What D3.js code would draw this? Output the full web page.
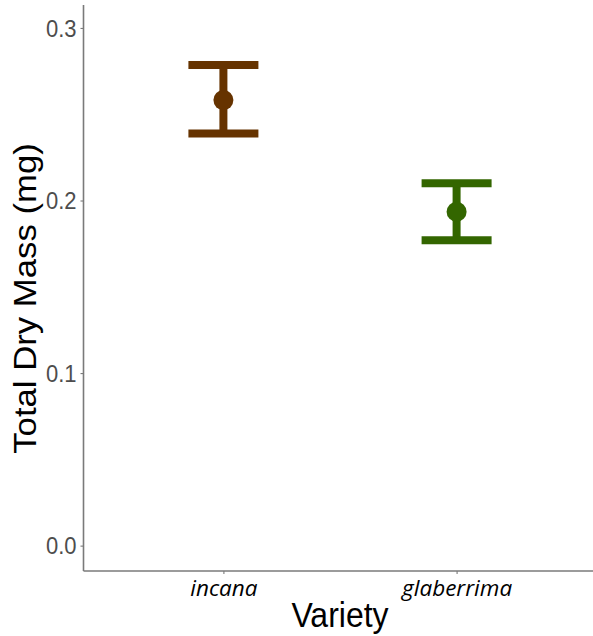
<!DOCTYPE html>
<html>
<head>
<meta charset="utf-8">
<script src="https://cdn.jsdelivr.net/npm/d3@7"></script>
<style>
  html, body { margin: 0; padding: 0; background: #fff; }
  svg { display: block; }
</style>
</head>
<body>
<svg id="chart" width="593" height="636"></svg>
<script>
// Mean total dry mass per variety with error bar limits
const varieties = ["incana", "glaberrima"];
const means = [0.2582, 0.1935];
const lower = [0.2389, 0.1769];
const upper = [0.2785, 0.2100];
const colors = ["#663300", "#336600"];
const yTicks = [0.0, 0.1, 0.2, 0.3];

const svg = d3.select("#chart");
const panel = { left: 83.5, right: 596.5, top: 5, bottom: 571 };
const textStretch = 1.1; // glyphs are drawn slightly taller than wide

const x = d3.scalePoint()
  .domain(varieties)
  .range([panel.left, panel.right])
  .padding(0.6);

const y = d3.scaleLinear()
  .domain([-0.0147, 0.3133])
  .range([panel.bottom, panel.top]);

// Axes
const yAxis = svg.append("g")
  .attr("transform", `translate(${panel.left},0)`)
  .call(d3.axisLeft(y).tickValues(yTicks).tickFormat(d3.format(".1f")).tickSize(3).tickSizeOuter(0).tickPadding(4));
const xAxis = svg.append("g")
  .attr("transform", `translate(0,${panel.bottom})`)
  .call(d3.axisBottom(x).tickSize(3).tickSizeOuter(0).tickPadding(4));

[yAxis, xAxis].forEach(g => {
  g.select(".domain").attr("stroke", "#7a7a7a").attr("stroke-width", 1.6);
  g.selectAll(".tick line").attr("stroke", "#7a7a7a").attr("stroke-width", 1.1);
});
yAxis.selectAll(".domain").attr("d", `M0,${panel.bottom}V${panel.top}`);
xAxis.selectAll(".domain").attr("d", `M${panel.left},0H${panel.right}`);

yAxis.selectAll(".tick text")
  .attr("fill", "#4d4d4d")
  .attr("x", -7)
  .attr("dy", "0.34em")
  .attr("transform", `scale(1,${textStretch})`)
  .style("font-family", "'Liberation Sans', Arial, sans-serif")
  .style("font-size", "22px");

xAxis.selectAll(".tick text")
  .attr("fill", "#000")
  .attr("y", 25)
  .attr("dy", 0)
  .style("font-family", "'Open Sans', sans-serif")
  .style("font-style", "italic")
  .style("font-size", "22.5px");

// Error bars and points
const data = varieties.map((v, i) => ({ v, m: means[i], lo: lower[i], hi: upper[i], c: colors[i] }));
const capHalf = 35;
const g = svg.append("g");

g.selectAll(".stem").data(data).join("line")
  .attr("x1", d => x(d.v)).attr("x2", d => x(d.v))
  .attr("y1", d => y(d.hi)).attr("y2", d => y(d.lo))
  .attr("stroke", d => d.c).attr("stroke-width", 8);

g.selectAll(".capTop").data(data).join("line")
  .attr("x1", d => x(d.v) - capHalf).attr("x2", d => x(d.v) + capHalf)
  .attr("y1", d => y(d.hi)).attr("y2", d => y(d.hi))
  .attr("stroke", d => d.c).attr("stroke-width", 8);

g.selectAll(".capBottom").data(data).join("line")
  .attr("x1", d => x(d.v) - capHalf).attr("x2", d => x(d.v) + capHalf)
  .attr("y1", d => y(d.lo)).attr("y2", d => y(d.lo))
  .attr("stroke", d => d.c).attr("stroke-width", 8);

g.selectAll("circle").data(data).join("circle")
  .attr("cx", d => x(d.v)).attr("cy", d => y(d.m))
  .attr("r", 10).attr("fill", d => d.c);

// Axis titles
svg.append("text")
  .attr("transform", `translate(${(panel.left + panel.right) / 2},627) scale(1,${textStretch + 0.02})`)
  .attr("text-anchor", "middle")
  .style("font-family", "'Liberation Sans', Arial, sans-serif")
  .style("font-size", "32px")
  .attr("fill", "#000")
  .text("Variety");

svg.append("text")
  .attr("transform", `translate(36,298.5) scale(1,${textStretch + 0.02}) rotate(-90)`)
  .attr("text-anchor", "middle")
  .style("font-family", "'Liberation Sans', Arial, sans-serif")
  .style("font-size", "31px")
  .attr("fill", "#000")
  .text("Total Dry Mass (mg)");
</script>
</body>
</html>
